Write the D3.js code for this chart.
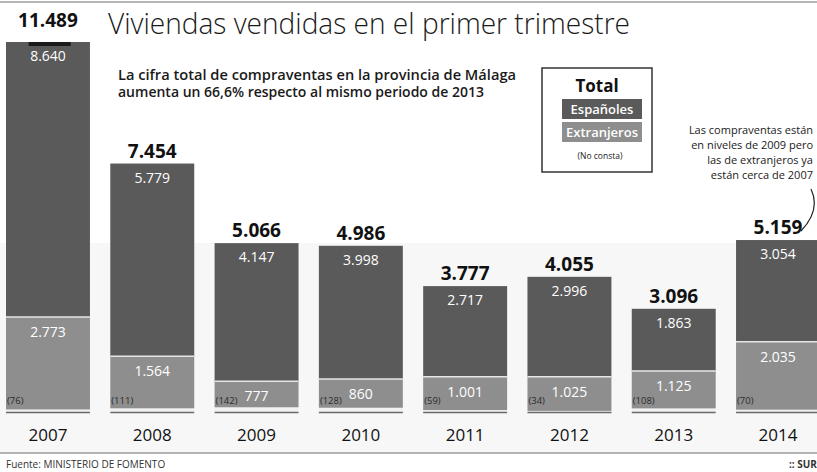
<!DOCTYPE html>
<html>
<head>
<meta charset="utf-8">
<script src="https://cdn.jsdelivr.net/npm/d3@7"></script>
<style>
  html, body { margin: 0; padding: 0; background: #fff; }
  svg { display: block; font-family: 'Open Sans', 'DejaVu Sans', sans-serif; }
</style>
</head>
<body>
<div id="chart"></div>
<script>
// datos: compraventas de viviendas en el primer trimestre (provincia de Málaga)
const years = ['2007', '2008', '2009', '2010', '2011', '2012', '2013', '2014'];
const espanoles = [8640, 5779, 4147, 3998, 2717, 2996, 1863, 3054];
const extranjeros = [2773, 1564, 777, 860, 1001, 1025, 1125, 2035];
const noConsta = [76, 111, 142, 128, 59, 34, 108, 70];
const totals = [11489, 7454, 5066, 4986, 3777, 4055, 3096, 5159];

const W = 817, H = 472;
const colors = { espanoles: '#5a5a5a', extranjeros: '#8e8e8e', noConsta: '#f1f1f1' };

const es = d3.formatLocale({ decimal: ',', thousands: '.', grouping: [3], currency: ['', '€'] });
const fmt = es.format(',d');

const rows = years.map((y, i) => ({
  year: y, espanoles: espanoles[i], extranjeros: extranjeros[i], noConsta: noConsta[i], total: totals[i]
}));

const svg = d3.select('#chart').append('svg')
  .attr('width', W)
  .attr('height', H);

// fondo gris muy claro de la parte baja (escaneo)
svg.append('rect')
  .attr('x', 0).attr('y', 243).attr('width', W).attr('height', 210)
  .attr('fill', '#f7f7f7');

// líneas de cabecera y pie
svg.append('line').attr('x1', 0).attr('x2', W).attr('y1', 2).attr('y2', 2)
  .attr('stroke', '#b5b5b5').attr('stroke-width', 2);
svg.append('line').attr('x1', 0).attr('x2', W).attr('y1', 453).attr('y2', 453)
  .attr('stroke', '#9a9a9a').attr('stroke-width', 1.5);

const x = d3.scaleBand()
  .domain(years)
  .range([6, 820])
  .paddingInner(0.195)
  .paddingOuter(0);

// 2007 se sale de la escala: se recorta arriba
const y = d3.scaleLinear()
  .domain([0, 11100])
  .range([412, 42])
  .clamp(true);

const stack = d3.stack().keys(['noConsta', 'extranjeros', 'espanoles']);
const series = stack(rows);

const g = svg.append('g');

g.selectAll('.serie')
  .data(series)
  .enter()
  .append('g')
  .attr('class', 'serie')
  .attr('fill', d => colors[d.key])
  .selectAll('rect')
  .data(d => d)
  .enter()
  .append('rect')
  .attr('x', d => x(d.data.year))
  .attr('y', d => y(d[1]))
  .attr('width', x.bandwidth())
  .attr('height', d => y(d[0]) - y(d[1]));

// separación clara entre españoles y extranjeros
g.selectAll('.sep')
  .data(rows)
  .enter()
  .append('line')
  .attr('class', 'sep')
  .attr('x1', d => x(d.year))
  .attr('x2', d => x(d.year) + x.bandwidth())
  .attr('y1', d => y(d.noConsta + d.extranjeros))
  .attr('y2', d => y(d.noConsta + d.extranjeros))
  .attr('stroke', '#e6e6e6')
  .attr('stroke-width', 1.5);

// línea base bajo cada barra
g.selectAll('.base')
  .data(rows)
  .enter()
  .append('line')
  .attr('class', 'base')
  .attr('x1', d => x(d.year))
  .attr('x2', d => x(d.year) + x.bandwidth())
  .attr('y1', y(0) + 0.5)
  .attr('y2', y(0) + 0.5)
  .attr('stroke', '#6a6a6a')
  .attr('stroke-width', 1.5);

// marca de corte en la barra que no cabe
g.selectAll('.corte')
  .data(rows.filter(d => d.total > y.domain()[1]))
  .enter()
  .append('rect')
  .attr('class', 'corte')
  .attr('x', d => x(d.year) + x.bandwidth() * 0.27)
  .attr('y', d => y(d.total))
  .attr('width', x.bandwidth() * 0.5)
  .attr('height', 4)
  .attr('fill', '#1a1a1a');

// totales
g.selectAll('.total')
  .data(rows)
  .enter()
  .append('text')
  .attr('class', 'total')
  .attr('x', d => x(d.year) + x.bandwidth() / 2)
  .attr('y', d => d.total > y.domain()[1] ? 27 : y(d.total) - 6)
  .attr('text-anchor', 'middle')
  .style('font-size', '19px')
  .style('font-weight', 'bold')
  .attr('fill', '#111')
  .text(d => fmt(d.total));

// valores españoles
g.selectAll('.v-es')
  .data(rows)
  .enter()
  .append('text')
  .attr('class', 'v-es')
  .attr('x', d => x(d.year) + x.bandwidth() / 2)
  .attr('y', d => y(d.total) + 19)
  .attr('text-anchor', 'middle')
  .style('font-size', '14px')
  .attr('fill', '#fff')
  .text(d => fmt(d.espanoles));

// valores extranjeros
g.selectAll('.v-ex')
  .data(rows)
  .enter()
  .append('text')
  .attr('class', 'v-ex')
  .attr('x', d => x(d.year) + x.bandwidth() / 2)
  .attr('y', d => Math.min(y(d.noConsta + d.extranjeros) + 20, 402))
  .attr('text-anchor', 'middle')
  .style('font-size', '14px')
  .attr('fill', '#fff')
  .text(d => fmt(d.extranjeros));

// no consta
g.selectAll('.v-nc')
  .data(rows)
  .enter()
  .append('text')
  .attr('class', 'v-nc')
  .attr('x', d => x(d.year) + 1)
  .attr('y', 404)
  .style('font-size', '9.5px')
  .attr('fill', '#2a2a2a')
  .text(d => `(${d.noConsta})`);

// años
g.selectAll('.anio')
  .data(years)
  .enter()
  .append('text')
  .attr('class', 'anio')
  .attr('x', d => x(d) + x.bandwidth() / 2)
  .attr('y', 441)
  .attr('text-anchor', 'middle')
  .style('font-size', '17px')
  .attr('fill', '#111')
  .text(d => d);

// título y subtítulo
svg.append('text')
  .attr('x', 108)
  .attr('y', 34)
  .style('font-size', '29px')
  .style('font-weight', '300')
  .attr('fill', '#1a1a1a')
  .attr('textLength', 522)
  .attr('lengthAdjust', 'spacingAndGlyphs')
  .text('Viviendas vendidas en el primer trimestre');

const sub = [
  ['La cifra total de compraventas en la provincia de Málaga', 80, 398],
  ['aumenta un 66,6% respecto al mismo periodo de 2013', 97, 366]
];
svg.selectAll('.sub')
  .data(sub)
  .enter()
  .append('text')
  .attr('class', 'sub')
  .attr('x', 118)
  .attr('y', d => d[1])
  .attr('textLength', d => d[2])
  .attr('lengthAdjust', 'spacingAndGlyphs')
  .style('font-size', '13.5px')
  .style('font-weight', '600')
  .attr('fill', '#1a1a1a')
  .text(d => d[0]);

// leyenda
const leg = svg.append('g');
leg.append('rect')
  .attr('x', 542).attr('y', 68).attr('width', 110).attr('height', 104)
  .attr('fill', '#fff').attr('stroke', '#333').attr('stroke-width', 1.5);
leg.append('text')
  .attr('x', 597).attr('y', 92)
  .attr('text-anchor', 'middle')
  .style('font-size', '17px').style('font-weight', 'bold')
  .attr('fill', '#111')
  .text('Total');
const legItems = [
  { label: 'Españoles', key: 'espanoles', y: 99 },
  { label: 'Extranjeros', key: 'extranjeros', y: 122 }
];
leg.selectAll('.li-rect')
  .data(legItems)
  .enter()
  .append('rect')
  .attr('x', 562).attr('y', d => d.y)
  .attr('width', 80).attr('height', 20)
  .attr('fill', d => colors[d.key]);
leg.selectAll('.li-text')
  .data(legItems)
  .enter()
  .append('text')
  .attr('x', 602).attr('y', d => d.y + 15)
  .attr('text-anchor', 'middle')
  .style('font-size', '13px').style('font-weight', '600')
  .attr('fill', '#fff')
  .text(d => d.label);
leg.append('text')
  .attr('x', 600).attr('y', 159)
  .attr('text-anchor', 'middle')
  .style('font-size', '8.5px')
  .attr('fill', '#222')
  .text('(No consta)');

// anotación
const nota = [
  ['Las compraventas están', 134],
  ['en niveles de 2009 pero', 149],
  ['las de extranjeros ya', 164],
  ['están cerca de 2007', 179]
];
svg.selectAll('.nota')
  .data(nota)
  .enter()
  .append('text')
  .attr('class', 'nota')
  .attr('x', 813)
  .attr('y', d => d[1])
  .attr('text-anchor', 'end')
  .style('font-size', '11px')
  .attr('fill', '#1a1a1a')
  .text(d => d[0]);

svg.append('path')
  .attr('d', 'M811,189 Q821,210 801,231')
  .attr('fill', 'none')
  .attr('stroke', '#222')
  .attr('stroke-width', 1.2);

// pie
svg.append('text')
  .attr('x', 6).attr('y', 468)
  .style('font-size', '10px')
  .attr('fill', '#333')
  .text('Fuente: MINISTERIO DE FOMENTO');
svg.append('text')
  .attr('x', 789).attr('y', 468)
  .style('font-size', '10px').style('font-weight', 'bold')
  .attr('fill', '#333')
  .text(':: SUR');
</script>
</body>
</html>
